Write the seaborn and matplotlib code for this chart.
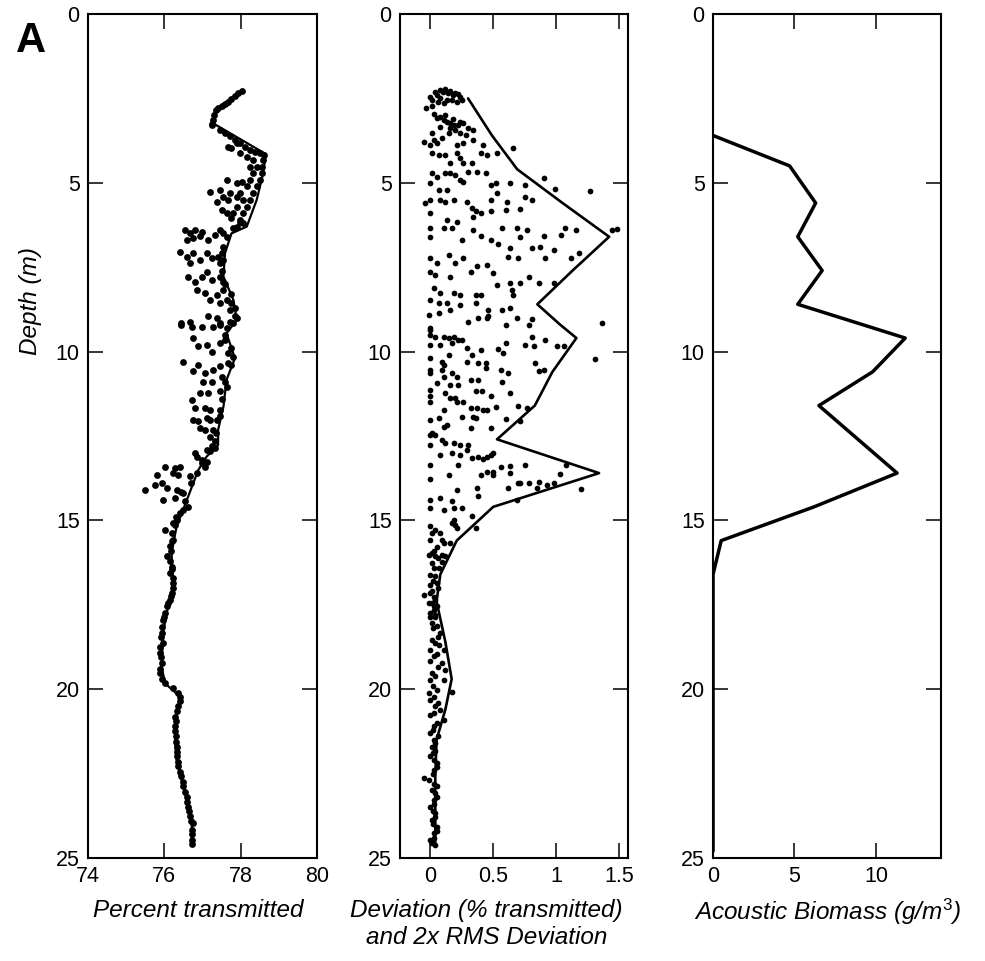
import matplotlib
matplotlib.use("Agg")
import matplotlib.pyplot as plt
import seaborn as sns
import pandas as pd

# ---------------- data (depth m, value) ----------------
depth_ticks = [0, 5, 10, 15, 20, 25]
trans_ticks = [74, 76, 78, 80]
dev_ticks = [0, 0.5, 1, 1.5]
dev_tick_labels = ["0", "0.5", "1", "1.5"]
bio_ticks = [0, 5, 10]

# Panel A1: percent transmitted samples (depth, %)
transmission_points = [
    (2.27, 78.03), (2.35, 77.94), (2.43, 77.85), (2.51, 77.76), (2.60, 77.68), (2.67, 77.59), (2.73, 77.50),
    (2.80, 77.41), (2.86, 77.35), (2.99, 77.30), (3.14, 77.28), (3.26, 77.26), (3.29, 77.24),
    (3.44, 77.45), (3.53, 77.59), (3.63, 77.72), (3.73, 77.85), (3.83, 77.98), (3.93, 78.12), (4.03, 78.24),
    (4.08, 78.37), (4.13, 78.51), (4.18, 78.61),
    (3.93, 77.68), (3.98, 77.76), (3.83, 77.90), (4.13, 77.98), (4.23, 78.16), (4.32, 78.33), (4.52, 78.42),
    (4.72, 78.55), (4.92, 78.51), (5.11, 78.42), (5.31, 78.33), (5.51, 78.24), (5.71, 78.16), (5.90, 78.07),
    (6.10, 77.98), (4.32, 78.59), (4.52, 78.55), (4.72, 78.33), (4.92, 78.24), (5.11, 78.16), (5.31, 77.98),
    (5.51, 78.07), (5.71, 77.90), (5.90, 77.81), (4.52, 78.24),
    (4.92, 77.63), (5.01, 77.90), (4.97, 78.03), (5.26, 77.20), (5.21, 77.45), (5.41, 77.54), (5.51, 77.68),
    (5.56, 77.37), (5.31, 77.72), (5.41, 77.90),
    (5.80, 77.50), (5.90, 77.63), (6.05, 77.76), (6.15, 77.98), (6.30, 77.90), (6.20, 78.07),
    (6.40, 76.54), (6.50, 76.67), (6.40, 76.80), (6.45, 76.98), (6.69, 76.59), (6.64, 76.76), (6.59, 76.93),
    (6.69, 77.15), (6.54, 77.33), (6.40, 77.45), (6.50, 77.54), (7.04, 76.41), (7.19, 76.59), (7.09, 76.76),
    (7.29, 76.93), (7.09, 77.11), (7.24, 77.24), (7.19, 77.41), (7.09, 77.50), (7.38, 77.45), (7.38, 76.67),
    (7.78, 76.63), (7.93, 76.80), (7.78, 76.98), (7.63, 77.11), (7.88, 77.24), (7.78, 77.45), (7.93, 77.54),
    (8.17, 76.85), (8.27, 77.07), (8.32, 77.37), (8.17, 77.54), (8.47, 77.63), (8.57, 77.76), (8.57, 77.45),
    (8.47, 77.20), (9.16, 76.45), (9.11, 76.67), (8.96, 77.15), (9.01, 77.37), (9.21, 77.45), (8.77, 77.72),
    (8.96, 77.85), (9.16, 77.81), (9.31, 77.63),
    (6.35, 77.80), (6.60, 77.65), (6.90, 77.55), (7.30, 77.55), (7.60, 77.50), (8.00, 77.60), (8.30, 77.75),
    (8.70, 77.85), (9.00, 77.90),
    (9.21, 76.45), (9.26, 76.72), (9.26, 76.98), (9.26, 77.28), (9.16, 77.45), (9.11, 77.72),
    (9.61, 76.76), (9.85, 76.89), (9.80, 77.11), (10.00, 77.24), (9.75, 77.45), (9.65, 77.59), (10.05, 77.68),
    (10.15, 77.81), (10.30, 76.50), (10.39, 76.89), (10.59, 76.76), (10.64, 77.07), (10.54, 77.28),
    (10.44, 77.45), (10.35, 77.68), (10.89, 77.02), (10.89, 77.24), (10.74, 77.50), (11.04, 77.63),
    (11.18, 77.45), (11.23, 76.93), (11.23, 77.15), (11.43, 76.72), (11.68, 76.80), (11.68, 77.07),
    (11.73, 77.20), (11.73, 77.45), (12.03, 76.76), (12.07, 76.89), (11.98, 77.11), (12.03, 77.20),
    (12.03, 77.37), (12.27, 76.93), (12.32, 77.07), (12.32, 77.28), (12.52, 77.20), (12.66, 77.33),
    (12.81, 77.24), (12.91, 77.11), (12.86, 77.33), (13.01, 76.80), (13.11, 76.85), (13.21, 76.98),
    (13.26, 77.11), (13.41, 77.07),
    (13.41, 76.02), (13.45, 76.28), (13.41, 76.41), (13.65, 75.80), (13.60, 76.24), (13.65, 76.37),
    (13.70, 76.67), (13.95, 75.76), (13.90, 75.93), (14.05, 76.06), (14.10, 75.49), (14.10, 76.32),
    (14.15, 76.45), (14.39, 75.97), (14.34, 76.28), (14.44, 76.54), (14.59, 76.63), (14.69, 76.50),
    (14.79, 76.41), (15.28, 76.02), (15.08, 76.24), (14.99, 76.32), (15.38, 76.19), (15.58, 76.24),
    (15.77, 76.15), (16.07, 76.06), (16.37, 76.19), (16.56, 76.15), (16.86, 76.24), (17.16, 76.19),
    (17.35, 76.15), (17.55, 76.06), (17.75, 76.02),
    (17.95, 75.97), (18.34, 75.93), (18.64, 75.97), (18.94, 75.89), (19.23, 75.93), (19.53, 75.89),
    (19.83, 76.02), (19.97, 76.24), (20.22, 76.41), (20.51, 76.37), (20.81, 76.28), (21.10, 76.28),
    (21.40, 76.30), (21.70, 76.32), (21.99, 76.34), (22.29, 76.37), (22.58, 76.45), (22.88, 76.50),
    (23.18, 76.59), (23.48, 76.63), (23.77, 76.67), (23.97, 76.74), (24.17, 76.72), (24.46, 76.72),
    (17.85, 76.00), (18.15, 75.95), (18.45, 75.92), (18.75, 75.90), (19.05, 75.92), (19.40, 75.90),
    (19.70, 75.95), (20.10, 76.35), (20.35, 76.40), (20.65, 76.33), (20.95, 76.30), (21.25, 76.27),
    (21.55, 76.31), (21.85, 76.33), (22.15, 76.35), (22.45, 76.40), (22.75, 76.48), (23.05, 76.55),
    (23.35, 76.60), (23.60, 76.65), (23.90, 76.70), (24.30, 76.72), (24.60, 76.72),
    (15.60, 76.20), (15.90, 76.18), (16.20, 76.15), (16.45, 76.20), (16.70, 76.22), (17.00, 76.22),
    (17.25, 76.17), (17.45, 76.10), (14.90, 76.30), (15.15, 76.27), (14.20, 76.50), (13.90, 76.70),
    (13.60, 76.85), (13.30, 77.00), (12.95, 77.20), (12.40, 77.35), (11.90, 77.45), (11.40, 77.52),
    (10.90, 77.60), (10.40, 77.75), (9.90, 77.75), (9.50, 77.60),
]

# Panel A1: smoothed transmission profile (depth, %)
transmission_line = [
    (2.25, 78.07), (2.84, 77.33), (3.24, 77.28), (4.15, 78.66), (4.72, 78.59), (5.51, 78.42), (6.30, 78.16),
    (6.50, 77.76), (7.09, 77.59), (7.78, 77.55), (8.47, 77.81), (9.06, 77.90), (9.46, 77.63), (10.20, 77.85),
    (10.84, 77.63), (11.63, 77.55), (12.32, 77.41), (12.77, 77.41), (13.11, 77.11), (13.51, 76.89),
    (14.40, 76.59), (15.19, 76.32), (15.97, 76.19), (16.96, 76.24), (17.75, 76.06), (18.34, 75.97),
    (19.33, 75.93), (19.83, 76.02), (20.22, 76.41), (20.81, 76.32), (21.50, 76.28), (22.10, 76.32),
    (22.69, 76.45), (23.28, 76.59), (23.87, 76.72), (24.47, 76.72),
]

# Panel A2: deviation samples (depth, % transmitted)
deviation_points = [
    (2.45, 0.00), (2.30, 0.04), (2.25, 0.08), (2.23, 0.12), (2.27, 0.16), (2.33, 0.20), (2.45, 0.24),
    (2.55, 0.13), (2.65, 0.11), (2.55, 0.17), (2.60, 0.21), (2.40, 0.05), (2.55, 0.01), (2.55, 0.25),
    (2.79, -0.03), (2.74, 0.01), (3.04, 0.08), (3.14, 0.11), (3.19, 0.13), (3.24, 0.16), (3.29, 0.19),
    (3.29, 0.22), (3.24, 0.26), (3.39, 0.30), (3.39, 0.16), (3.09, 0.05), (3.53, 0.01), (3.73, 0.03),
    (3.78, -0.05), (3.88, 0.00), (3.83, 0.05), (3.68, 0.09), (3.53, 0.15), (3.53, 0.24), (3.58, 0.28),
    (3.44, 0.34), (3.83, 0.26), (3.88, 0.21), (3.73, 0.34), (3.88, 0.42), (4.13, 0.40), (4.18, 0.45),
    (4.13, 0.53), (3.98, 0.66), (4.13, 0.01), (4.18, 0.07), (4.18, 0.12), (4.42, 0.16), (4.13, 0.21),
    (4.27, 0.24), (4.42, 0.26), (4.42, 0.33), (4.67, 0.37), (4.72, 0.44), (4.72, 0.01), (4.82, 0.05),
    (4.72, 0.12), (4.72, 0.16), (4.77, 0.20), (4.92, 0.24), (4.97, 0.26), (4.67, 0.30), (5.01, 0.00),
    (5.21, 0.07), (5.21, 0.13), (5.06, 0.48), (5.01, 0.52), (5.00, 0.63), (5.06, 0.75), (4.87, 0.90),
    (5.19, 0.99), (5.23, 1.27), (5.61, -0.04), (5.51, 0.00), (5.51, 0.08), (5.56, 0.12), (5.51, 0.19),
    (5.56, 0.29), (5.76, 0.33), (5.85, 0.36), (5.51, 0.48), (5.31, 0.53), (5.56, 0.61), (5.82, 0.60),
    (5.78, 0.71), (5.41, 0.75), (5.51, 0.81), (5.90, 0.00), (6.35, 0.00), (6.10, 0.13), (6.15, 0.21),
    (6.00, 0.34), (5.90, 0.40), (5.85, 0.48), (6.33, 0.57), (6.35, 0.69), (6.40, 0.77), (6.57, 0.90),
    (6.54, 1.04), (6.35, 1.07), (6.40, 1.16), (6.40, 1.44), (6.37, 1.48), (6.61, 0.00), (6.35, 0.11),
    (6.35, 0.17), (6.69, 0.25), (6.40, 0.34), (6.59, 0.40), (6.69, 0.48), (6.81, 0.54), (6.94, 0.63),
    (6.61, 0.71), (6.94, 0.81), (6.89, 0.87), (6.99, 0.98), (7.24, 1.12), (7.09, 1.18), (7.24, 0.00),
    (7.38, 0.05), (7.14, 0.15), (7.38, 0.20), (7.24, 0.26), (7.19, 0.62), (7.22, 0.70), (7.22, 0.91),
    (7.63, 0.00), (7.73, 0.04), (7.78, 0.16), (7.63, 0.32), (7.48, 0.37), (7.43, 0.45), (7.68, 0.50),
    (8.03, 0.53), (7.98, 0.63), (7.96, 0.71), (7.78, 0.78), (7.96, 0.86), (7.98, 0.98), (8.12, 0.03),
    (8.27, 0.08), (8.27, 0.19), (8.32, 0.24), (8.32, 0.36), (8.32, 0.40), (8.17, 0.65), (8.32, 0.66),
    (8.47, 0.00), (8.57, 0.07), (8.57, 0.13), (8.77, 0.16), (8.62, 0.24), (8.57, 0.36), (8.77, 0.46),
    (8.77, 0.57), (8.72, 0.63), (8.91, -0.01), (8.86, 0.07), (9.11, 0.30), (9.01, 0.38), (9.01, 0.45),
    (8.96, 0.46), (9.21, 0.60), (9.01, 0.69), (9.21, 0.78), (9.04, 0.81), (9.14, 1.36), (9.31, 0.00),
    (9.36, 0.00), (9.51, 0.00), (9.56, 0.04), (9.56, 0.11), (9.61, 0.15), (9.56, 0.19), (9.65, 0.22),
    (9.65, 0.25), (9.75, 0.17), (9.80, 0.00), (9.80, 0.08), (9.90, 0.29), (9.95, 0.40), (9.93, 0.54),
    (10.05, 0.58), (9.75, 0.60), (9.80, 0.75), (9.85, 0.82), (9.56, 0.81), (9.65, 0.91), (9.85, 1.01),
    (9.85, 1.06), (10.23, 1.31), (10.20, 0.00), (10.30, 0.09), (10.39, 0.11), (10.10, 0.15), (10.10, 0.33),
    (10.30, 0.29), (10.35, 0.38), (10.35, 0.44), (10.49, 0.44), (10.54, 0.56), (10.64, 0.62), (10.35, 0.83),
    (10.59, 0.86), (10.54, 0.90), (10.54, 0.00), (10.64, 0.00), (10.54, 0.09), (10.74, 0.11), (10.64, 0.17),
    (10.74, 0.21), (10.84, 0.32), (10.84, 0.38), (10.89, 0.57), (10.94, 0.05), (10.99, 0.16), (10.99, 0.22),
    (11.14, 0.00), (11.33, 0.00), (11.48, 0.00), (11.23, 0.12), (11.38, 0.16), (11.38, 0.20), (11.48, 0.21),
    (11.48, 0.26), (11.18, 0.36), (11.18, 0.41), (11.33, 0.48), (11.23, 0.63), (11.73, 0.11), (11.68, 0.32),
    (11.68, 0.37), (11.73, 0.42), (11.73, 0.45), (11.65, 0.52), (11.61, 0.70), (11.68, 0.77), (12.03, 0.00),
    (11.98, 0.07), (12.22, 0.11), (12.17, 0.13), (11.93, 0.25), (12.27, 0.32), (11.98, 0.36), (11.93, 0.34),
    (12.27, 0.48), (12.01, 0.60), (12.05, 0.71), (12.47, 0.00), (12.42, 0.01), (12.47, 0.04), (12.62, 0.09),
    (12.71, 0.12), (12.71, 0.19), (12.76, 0.24), (12.91, 0.29), (12.76, 0.30), (12.76, 0.00), (13.06, 0.08),
    (13.01, 0.17), (13.06, 0.24), (13.16, 0.33), (13.11, 0.38), (13.19, 0.42), (13.11, 0.45), (13.06, 0.48),
    (12.99, 0.50), (13.36, 0.00), (13.36, 0.22), (13.65, 0.40), (13.58, 0.45), (13.58, 0.50), (13.65, 0.50),
    (13.41, 0.56), (13.39, 0.63), (13.60, 0.63), (13.36, 0.75), (13.36, 1.08), (13.62, 1.03), (13.78, 0.00),
    (13.65, 0.15), (14.10, 0.21), (14.05, 0.37), (14.29, 0.38), (14.05, 0.62), (13.88, 0.70), (13.90, 0.71),
    (13.90, 0.78), (13.85, 0.86), (13.95, 0.93), (13.90, 0.98), (14.05, 0.85), (14.08, 1.20), (14.39, 0.69),
    (14.39, 0.00), (14.63, 0.00), (14.34, 0.08), (14.68, 0.11), (14.44, 0.17), (14.63, 0.19), (14.63, 0.25),
    (14.87, 0.33), (14.99, 0.19), (15.13, 0.20), (15.08, 0.17), (15.23, 0.21), (15.23, 0.36), (15.18, 0.00),
    (15.38, 0.01), (15.28, 0.04), (15.38, 0.08), (15.58, 0.09), (15.68, 0.11), (15.66, 0.16), (15.58, 0.00),
    (16.02, -0.01), (15.97, 0.01), (16.07, 0.04), (16.02, 0.09), (16.07, 0.12), (16.22, 0.09), (16.27, 0.01),
    (16.42, 0.03), (16.61, 0.00), (16.66, 0.04), (16.86, 0.05), (16.91, 0.00), (17.21, -0.05), (17.16, 0.00),
    (17.26, 0.03), (17.35, 0.04), (17.45, 0.01), (17.55, 0.05), (17.65, 0.03), (17.80, 0.04), (17.85, 0.00),
    (17.45, -0.01), (17.55, 0.03), (17.75, 0.00), (17.85, 0.04), (18.04, 0.01), (18.14, 0.05), (18.34, 0.08),
    (18.54, 0.01), (18.64, 0.04), (18.84, 0.00), (18.84, 0.11), (19.03, 0.03), (19.18, 0.00), (19.23, 0.09),
    (19.43, 0.12), (19.53, 0.01), (19.72, 0.00), (19.72, 0.11), (20.02, 0.05), (20.07, 0.17), (20.12, -0.01),
    (20.22, 0.03), (20.32, 0.00), (20.51, 0.04), (20.61, 0.08), (20.76, 0.00), (20.91, 0.11), (21.10, 0.03),
    (21.30, 0.00), (21.50, 0.03), (21.70, 0.01), (21.84, 0.04), (21.99, 0.00), (22.19, 0.05), (22.39, 0.03),
    (22.64, -0.05), (22.69, -0.01), (22.88, 0.05), (23.08, 0.04), (23.28, 0.03), (23.48, 0.00), (23.67, 0.04),
    (23.87, 0.01), (24.07, 0.05), (24.27, 0.03), (24.46, 0.00), (24.61, 0.04),
    (16.80, 0.02), (17.00, 0.06), (17.10, 0.01), (18.20, 0.02), (18.45, 0.06), (18.70, 0.07), (18.95, 0.05),
    (19.35, 0.06), (19.60, 0.04), (19.90, 0.02), (20.40, 0.06), (20.70, 0.03), (21.00, 0.05), (21.20, 0.02),
    (21.40, 0.06), (21.60, 0.04), (21.90, 0.02), (22.10, 0.03), (22.30, 0.05), (22.50, 0.02), (22.80, 0.03),
    (23.00, 0.01), (23.20, 0.05), (23.40, 0.03), (23.60, 0.02), (23.80, 0.04), (24.00, 0.02), (24.20, 0.05),
    (24.40, 0.03), (24.55, 0.01), (16.40, 0.07), (16.10, 0.06), (15.90, 0.03), (15.80, 0.05),
    (2.30, 0.10), (2.35, 0.14), (2.40, 0.18), (2.50, 0.08), (2.38, 0.22), (2.62, 0.06), (3.00, 0.12),
    (3.10, 0.18), (3.20, 0.24), (2.95, 0.03), (3.35, 0.08), (3.45, 0.20),
]

# Panel A2: 2x RMS deviation per depth bin (depth, % transmitted)
rms_line = [
    (2.5, 0.30), (3.6, 0.49), (4.6, 0.69), (5.6, 1.05), (6.6, 1.42), (7.6, 1.13), (8.6, 0.85), (9.2, 1.03),
    (9.6, 1.16), (10.6, 0.97), (11.6, 0.83), (12.6, 0.53), (13.6, 1.34), (14.6, 0.50), (15.6, 0.21),
    (16.6, 0.08), (17.4, 0.05), (18.6, 0.12), (19.7, 0.17), (20.6, 0.12), (21.5, 0.05), (22.6, 0.04),
    (23.6, 0.04), (24.6, 0.04),
]

# Panel A3: acoustic biomass (depth, g/m^3)
biomass_depth = [3.6, 4.5, 5.6, 6.6, 7.6, 8.6, 9.6, 10.6, 11.6, 12.6, 13.6, 14.6, 15.6, 16.6,
                 17.6, 18.6, 19.6, 20.6, 21.6, 22.6, 23.6, 24.8]
biomass_value = [0.0, 4.7, 6.3, 5.2, 6.7, 5.2, 11.8, 9.8, 6.5, 8.9, 11.3, 6.2, 0.5, 0.0,
                 0.0, 0.0, 0.0, 0.0, 0.0, 0.0, 0.0, 0.0]

# ---------------- styling ----------------
sns.set_style("ticks")
plt.rcParams["font.family"] = ["Liberation Sans Narrow", "Liberation Sans", "DejaVu Sans"]
plt.rcParams["mathtext.fontset"] = "custom"
plt.rcParams["mathtext.rm"] = "Liberation Sans"
plt.rcParams["mathtext.it"] = "Liberation Sans:italic"
for key in ("text.color", "axes.edgecolor", "axes.labelcolor", "xtick.color", "ytick.color"):
    plt.rcParams[key] = "black"
plt.rcParams["axes.linewidth"] = 1.5

fig = plt.figure(figsize=(9.85, 9.61), dpi=100)
bottom, height = 0.1072, 0.8783
ax1 = fig.add_axes([0.0893, bottom, 0.2325, height])
ax2 = fig.add_axes([0.4061, bottom, 0.2315, height])
ax3 = fig.add_axes([0.7239, bottom, 0.2315, height])

tp = pd.DataFrame(transmission_points, columns=["depth", "value"])
tl = pd.DataFrame(transmission_line, columns=["depth", "value"])
dp = pd.DataFrame(deviation_points, columns=["depth", "value"])
rl = pd.DataFrame(rms_line, columns=["depth", "value"])
bio = pd.DataFrame({"depth": biomass_depth, "value": biomass_value})

sns.lineplot(data=tl, x="value", y="depth", sort=False, estimator=None, color="black", lw=1.6, ax=ax1)
sns.scatterplot(data=tp, x="value", y="depth", color="black", s=24, linewidth=0, ax=ax1)

sns.scatterplot(data=dp, x="value", y="depth", color="black", s=17, linewidth=0, ax=ax2)
sns.lineplot(data=rl, x="value", y="depth", sort=False, estimator=None, color="black", lw=1.9, ax=ax2)

sns.lineplot(data=bio, x="value", y="depth", sort=False, estimator=None, color="black", lw=2.5, ax=ax3)

tick_fs = 15.5
label_fs = 17.5
for ax in (ax1, ax2, ax3):
    ax.set_ylim(25, 0)
    ax.set_yticks(depth_ticks)
    ax.set_yticklabels([str(t) for t in depth_ticks])
    ax.tick_params(direction="in", length=11, width=1.1, top=True, right=True,
                   labelsize=tick_fs, pad=6, colors="black")
    for sp in ax.spines.values():
        sp.set_visible(True)
        sp.set_linewidth(1.5)
        sp.set_color("black")
    ax.set_ylabel("")

ax1.set_xlim(74, 80)
ax1.set_xticks(trans_ticks)
ax1.set_xticklabels([str(t) for t in trans_ticks])
ax2.set_xlim(-0.24, 1.57)
ax2.set_xticks(dev_ticks)
ax2.set_xticklabels(dev_tick_labels)
ax3.set_xlim(0, 14)
ax3.set_xticks(bio_ticks)
ax3.set_xticklabels([str(t) for t in bio_ticks])

label_y = -0.049
ax1.set_xlabel("Percent transmitted", fontsize=label_fs, fontstyle="italic")
ax1.xaxis.set_label_coords(0.48, label_y, transform=ax1.transAxes)
ax2.set_xlabel("Deviation (% transmitted)\nand 2x RMS Deviation", fontsize=label_fs,
               fontstyle="italic", linespacing=1.2)
ax2.xaxis.set_label_coords(0.38, label_y, transform=ax2.transAxes)
ax3.set_xlabel(r"Acoustic Biomass (g/m$^{3}$)", fontsize=label_fs, fontstyle="italic")
ax3.xaxis.set_label_coords(0.50, label_y + 0.003, transform=ax3.transAxes)
for ax in (ax1, ax2, ax3):
    ax.xaxis.label.set_verticalalignment("top")

ax1.set_ylabel("Depth (m)", fontsize=label_fs, fontstyle="italic")
ax1.yaxis.set_label_coords(-0.2, 0.66)

fig.text(0.016, 0.957, "A", fontsize=30, fontweight="bold", family=["Liberation Sans", "DejaVu Sans"],
         ha="left", va="center")

fig.savefig("out.png", dpi=100)
